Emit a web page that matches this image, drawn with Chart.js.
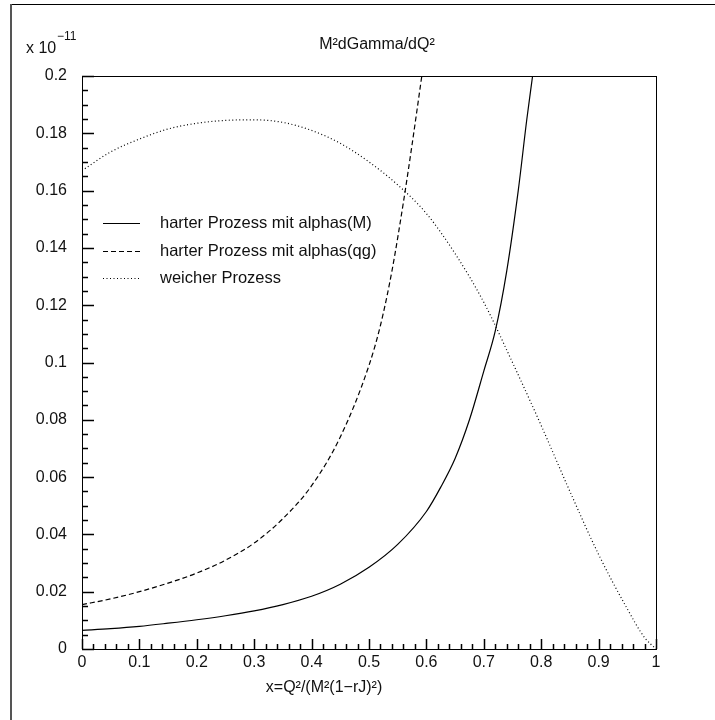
<!DOCTYPE html>
<html>
<head>
<meta charset="utf-8">
<script src="https://cdn.jsdelivr.net/npm/chart.js@4.4.0/dist/chart.umd.min.js"></script>
<style>
  html, body { margin: 0; padding: 0; background: #fff; }
  #wrap { width: 715px; height: 720px; position: relative; }
</style>
</head>
<body>
<div id="wrap"><canvas id="chartGamma"></canvas></div>
<script>
// ticks
var xTicks = [0, 0.1, 0.2, 0.3, 0.4, 0.5, 0.6, 0.7, 0.8, 0.9, 1];
var xTickLabels = ["0", "0.1", "0.2", "0.3", "0.4", "0.5", "0.6", "0.7", "0.8", "0.9", "1"];
var yTicks = [0, 0.02, 0.04, 0.06, 0.08, 0.1, 0.12, 0.14, 0.16, 0.18, 0.2];
var yTickLabels = ["0", "0.02", "0.04", "0.06", "0.08", "0.1", "0.12", "0.14", "0.16", "0.18", "0.2"];

// harter Prozess mit alphas(M)
var hartMx = [0, 0.05, 0.1, 0.15, 0.2, 0.25, 0.3, 0.35, 0.4, 0.45, 0.5, 0.55, 0.6, 0.625, 0.65, 0.675, 0.7, 0.72, 0.74, 0.76, 0.775, 0.785];
var hartMy = [0.0065, 0.0071, 0.0079, 0.0090, 0.0102, 0.0116, 0.0133, 0.0155, 0.0184, 0.0226, 0.0285, 0.0365, 0.0480, 0.0565, 0.0665, 0.0800, 0.0970, 0.1110, 0.1320, 0.1600, 0.1850, 0.2000];

// harter Prozess mit alphas(qg)
var hartQx = [0, 0.05, 0.1, 0.15, 0.2, 0.25, 0.3, 0.35, 0.4, 0.45, 0.5, 0.52, 0.54, 0.56, 0.575, 0.592];
var hartQy = [0.0155, 0.0175, 0.0200, 0.0230, 0.0265, 0.0310, 0.0370, 0.0455, 0.0570, 0.0740, 0.0990, 0.1130, 0.1320, 0.1560, 0.1760, 0.2000];

// weicher Prozess
var weichx = [0, 0.05, 0.1, 0.15, 0.2, 0.25, 0.3, 0.35, 0.4, 0.45, 0.5, 0.55, 0.6, 0.65, 0.7, 0.75, 0.8, 0.85, 0.9, 0.95, 0.98, 1];
var weichy = [0.1670, 0.1735, 0.1780, 0.1815, 0.1835, 0.1845, 0.1847, 0.1838, 0.1810, 0.1765, 0.1700, 0.1620, 0.1520, 0.1380, 0.1210, 0.1000, 0.0780, 0.0550, 0.0330, 0.0140, 0.0040, 0];

var seriesLabels = ["harter Prozess mit alphas(M)", "harter Prozess mit alphas(qg)", "weicher Prozess"];

function pts(xs, ys) {
    return xs.map(function (x, i) { return { x: x, y: ys[i] }; });
}

var FONT = "'Liberation Sans', Arial, sans-serif";

// frame, box, inward ticks, texts, legend
var decor = {
    id: "decor",
    beforeDraw: function (chart) {
        var c = chart.ctx;
        c.save();
        c.strokeStyle = "#000";
        c.lineWidth = 1;
        c.beginPath();
        c.moveTo(11, 4.5); c.lineTo(715, 4.5);
        c.stroke();
        c.strokeStyle = "#555";
        c.lineWidth = 2;
        c.beginPath();
        c.moveTo(11, 4); c.lineTo(11, 720);
        c.stroke();
        c.restore();
    },
    afterDatasetsDraw: function (chart) {
        var c = chart.ctx, a = chart.chartArea;
        var xs = chart.scales.x, ys = chart.scales.y;
        c.save();
        c.strokeStyle = "#000";
        c.lineWidth = 1;
        c.strokeRect(a.left + 0.5, a.top + 0.5, a.right - a.left, a.bottom - a.top);

        c.lineWidth = 1.5;
        c.beginPath();
        var i, px, len;
        for (i = 0; i <= 50; i++) {
            px = Math.round(xs.getPixelForValue(i / 50)) + 0.5;
            len = (i % 5 === 0) ? 10 : 5;
            c.moveTo(px, a.bottom);
            c.lineTo(px, a.bottom - len);
        }
        for (i = 0; i <= 40; i++) {
            px = Math.round(ys.getPixelForValue(i * 0.005)) + 0.5;
            len = (i % 4 === 0) ? 12 : 6;
            c.moveTo(a.left, px);
            c.lineTo(a.left + len, px);
        }
        c.stroke();

        // title
        c.fillStyle = "#111";
        c.textBaseline = "alphabetic";
        c.font = "16px " + FONT;
        c.textAlign = "center";
        c.fillText("M\u00b2dGamma/dQ\u00b2", 377, 49);

        // x axis title
        c.fillText("x=Q\u00b2/(M\u00b2(1\u2212rJ)\u00b2)", 324, 692);

        // exponent
        c.textAlign = "left";
        c.fillText("x 10", 26, 53);
        c.font = "12px " + FONT;
        c.fillText("\u221211", 57, 40);

        // legend
        var rows = [223, 251, 278];
        c.font = "16.5px " + FONT;
        c.textBaseline = "middle";
        chart.data.datasets.forEach(function (ds, k) {
            c.setLineDash(ds.borderDash || []);
            c.lineWidth = 1.2;
            c.beginPath();
            c.moveTo(103, rows[k] + 0.5);
            c.lineTo(140, rows[k] + 0.5);
            c.stroke();
            c.setLineDash([]);
            c.fillText(ds.label, 160, rows[k]);
        });
        c.restore();
    }
};

var ctx = document.getElementById("chartGamma");

var chartGamma = new Chart(ctx, {
    type: "line",
    data: {
        datasets: [{
            label: seriesLabels[0],
            data: pts(hartMx, hartMy),
            borderColor: "#000",
            borderWidth: 1.2,
            borderDash: [],
            pointRadius: 0,
            cubicInterpolationMode: "monotone"
        }, {
            label: seriesLabels[1],
            data: pts(hartQx, hartQy),
            borderColor: "#000",
            borderWidth: 1.2,
            borderDash: [5, 3],
            pointRadius: 0,
            cubicInterpolationMode: "monotone"
        }, {
            label: seriesLabels[2],
            data: pts(weichx, weichy),
            borderColor: "#000",
            borderWidth: 1.2,
            borderDash: [1, 2.5],
            pointRadius: 0,
            cubicInterpolationMode: "monotone"
        }]
    },
    options: {
        responsive: true,
        maintainAspectRatio: false,
        animation: false,
        layout: { padding: { left: 0, top: 76, right: 59, bottom: 0 } },
        plugins: {
            legend: { display: false },
            tooltip: { enabled: false }
        },
        scales: {
            x: {
                type: "linear",
                min: 0,
                max: 1,
                grid: { display: false, drawTicks: false },
                border: { display: false },
                afterBuildTicks: function (scale) {
                    scale.ticks = xTicks.map(function (v) { return { value: v }; });
                },
                afterFit: function (scale) { scale.height = 71; },
                ticks: {
                    padding: 4,
                    color: "#111",
                    font: { family: FONT, size: 16 },
                    maxRotation: 0,
                    autoSkip: false,
                    callback: function (v, i) { return xTickLabels[i]; }
                }
            },
            y: {
                type: "linear",
                min: 0,
                max: 0.2,
                grid: { display: false, drawTicks: false },
                border: { display: false },
                afterBuildTicks: function (scale) {
                    scale.ticks = yTicks.map(function (v) { return { value: v }; });
                },
                afterFit: function (scale) { scale.width = 82; },
                ticks: {
                    padding: 15,
                    color: "#111",
                    font: { family: FONT, size: 16 },
                    autoSkip: false,
                    callback: function (v, i) { return yTickLabels[i]; }
                }
            }
        }
    },
    plugins: [decor]
});
</script>
</body>
</html>
